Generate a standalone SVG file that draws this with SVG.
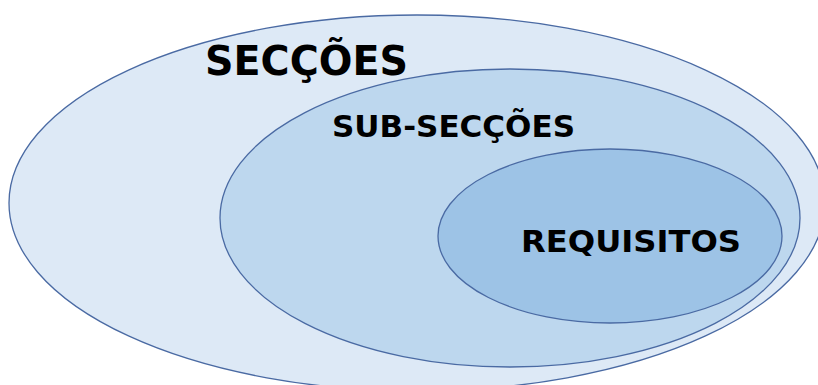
<svg xmlns="http://www.w3.org/2000/svg" width="818" height="385" viewBox="0 0 818 385">
<style>
.e{stroke:#4a6aa3;stroke-width:1.3}
.t{font-family:"DejaVu Sans",Verdana,sans-serif;font-weight:bold;fill:#000}
</style>
<rect width="818" height="385" fill="#fff"/>
<g id="seccoes">
<ellipse class="e" cx="417" cy="203" rx="408" ry="188" fill="#dde9f6"/>
<text class="t" x="205" y="75" font-size="40" textLength="203" lengthAdjust="spacingAndGlyphs">SECÇÕES</text>
</g>
<g id="subseccoes">
<ellipse class="e" cx="510" cy="218" rx="290" ry="149" fill="#bdd7ee"/>
<text class="t" x="332" y="137" font-size="31" textLength="243" lengthAdjust="spacingAndGlyphs">SUB-SECÇÕES</text>
</g>
<g id="requisitos">
<ellipse class="e" cx="610" cy="236" rx="172" ry="87" fill="#9dc3e6"/>
<text class="t" x="521" y="252" font-size="31" textLength="220" lengthAdjust="spacingAndGlyphs">REQUISITOS</text>
</g>
<g id="connectors"/>
</svg>
